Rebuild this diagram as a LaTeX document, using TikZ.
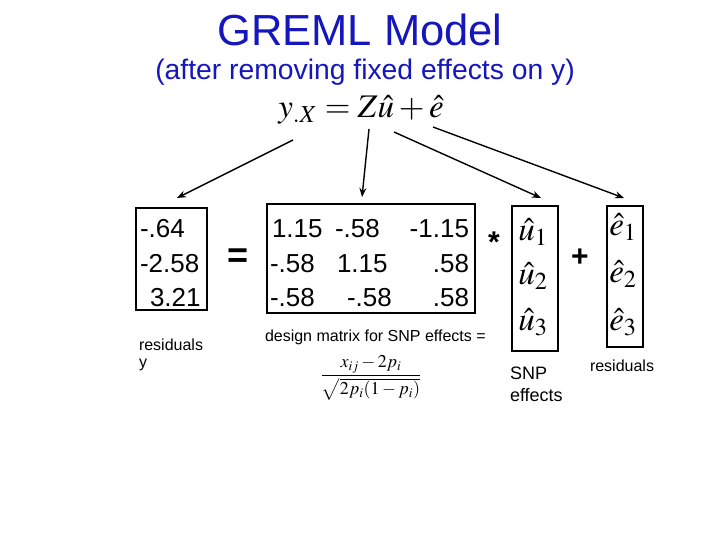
\documentclass[tikz,border=0pt]{standalone}
\usepackage{amsmath}
\usepackage{mathptmx}
\usepackage{fontspec}
\setmainfont{Liberation Sans}
\usetikzlibrary{arrows.meta}
\definecolor{titleblue}{RGB}{22,22,190}
\begin{document}
\begin{tikzpicture}[x=1pt,y=-1pt,
  every node/.style={inner sep=0pt,outer sep=0pt},
  conn/.style={draw=black,line width=1.4pt,-{Stealth[length=9pt,width=7pt]}},
  frame/.style={draw=black,line width=2.8pt},
  num/.style={font=\fontsize{26}{28}\selectfont,anchor=base west},
  numr/.style={font=\fontsize{26}{28}\selectfont,anchor=base east},
  hatv/.style={font=\fontsize{33}{36}\selectfont},
  small/.style={font=\fontsize{16}{18}\selectfont}]
\useasboundingbox (0,0) rectangle (720,540);
% titles
\node[text=titleblue,font=\fontsize{43.5}{48}\selectfont] (title) at (360,30) {GREML Model};
\node[text=titleblue,font=\fontsize{28.3}{32}\selectfont] (sub) at (365,72) {(after removing fixed effects on y)};
% equation
\node[font=\fontsize{33}{36}\selectfont] (eq) at (361,110) {$y_{.X} = Z\hat{u} + \hat{e}$};
\coordinate (sy) at (293,140);
\coordinate (sZ) at (369,129);
\coordinate (su) at (394,132);
\coordinate (se) at (433,127);
% boxes
\node[frame,minimum width=71pt,minimum height=102pt] (ybox) at (171.5,259) {};
\node[frame,minimum width=208pt,minimum height=109pt] (zbox) at (371,258.5) {};
\node[frame,minimum width=46pt,minimum height=145pt] (ubox) at (535,278.5) {};
\node[frame,minimum width=36pt,minimum height=141pt] (ebox) at (625,276.5) {};
% arrows
\draw[conn] (sy) -- (177,198) coordinate (ty);
\draw[conn] (sZ) -- (362,197) coordinate (tZ);
\draw[conn] (su) -- (541,198) coordinate (tu);
\draw[conn] (se) -- (624,198) coordinate (te);
% y vector
\node[num] (y1) at (140,237) {-.64};
\node[num] (y2) at (140,272) {-2.58};
\node[num] (y3) at (150,306) {3.21};
% Z matrix
\node[num] (z11) at (272,237) {1.15};
\node[num] (z12) at (335,237) {-.58};
\node[numr] (z13) at (469,237) {-1.15};
\node[num] (z21) at (270,272) {-.58};
\node[num] (z22) at (337,272) {1.15};
\node[numr] (z23) at (469,272) {.58};
\node[num] (z31) at (270,306) {-.58};
\node[num] (z32) at (347,306) {-.58};
\node[numr] (z33) at (469,306) {.58};
% operators
\node[font=\fontsize{36}{36}\selectfont\bfseries] (eqsign) at (238,258) {=};
\node[font=\fontsize{30}{30}\selectfont\bfseries] (star) at (494,242) {*};
\node[font=\fontsize{30}{30}\selectfont\bfseries] (plus) at (580,258) {+};
% u hat
\node[hatv] (u1) at (533,232) {$\hat{u}_1$};
\node[hatv] (u2) at (533,276) {$\hat{u}_2$};
\node[hatv] (u3) at (533,322) {$\hat{u}_3$};
% e hat
\node[hatv] (e1) at (623,227) {$\hat{e}_1$};
\node[hatv] (e2) at (623,274) {$\hat{e}_2$};
\node[hatv] (e3) at (623,322) {$\hat{e}_3$};
% labels
\node[small,anchor=west] (res1) at (139,345) {residuals};
\node[small,anchor=west] (res2) at (139,365) {y};
\node[small,anchor=west] (dm) at (265,337) {design matrix for SNP effects =};
\node[font=\fontsize{18}{20}\selectfont] (frac) at (371,378) {$\dfrac{x_{ij}-2p_i}{\sqrt{2p_i(1-p_i)}}$};
\node[font=\fontsize{18}{20}\selectfont,anchor=west] (snp1) at (510,373) {SNP};
\node[font=\fontsize{18}{20}\selectfont,anchor=west] (snp2) at (510,395) {effects};
\node[small,anchor=west] (res3) at (590,366) {residuals};
\end{tikzpicture}
\end{document}
